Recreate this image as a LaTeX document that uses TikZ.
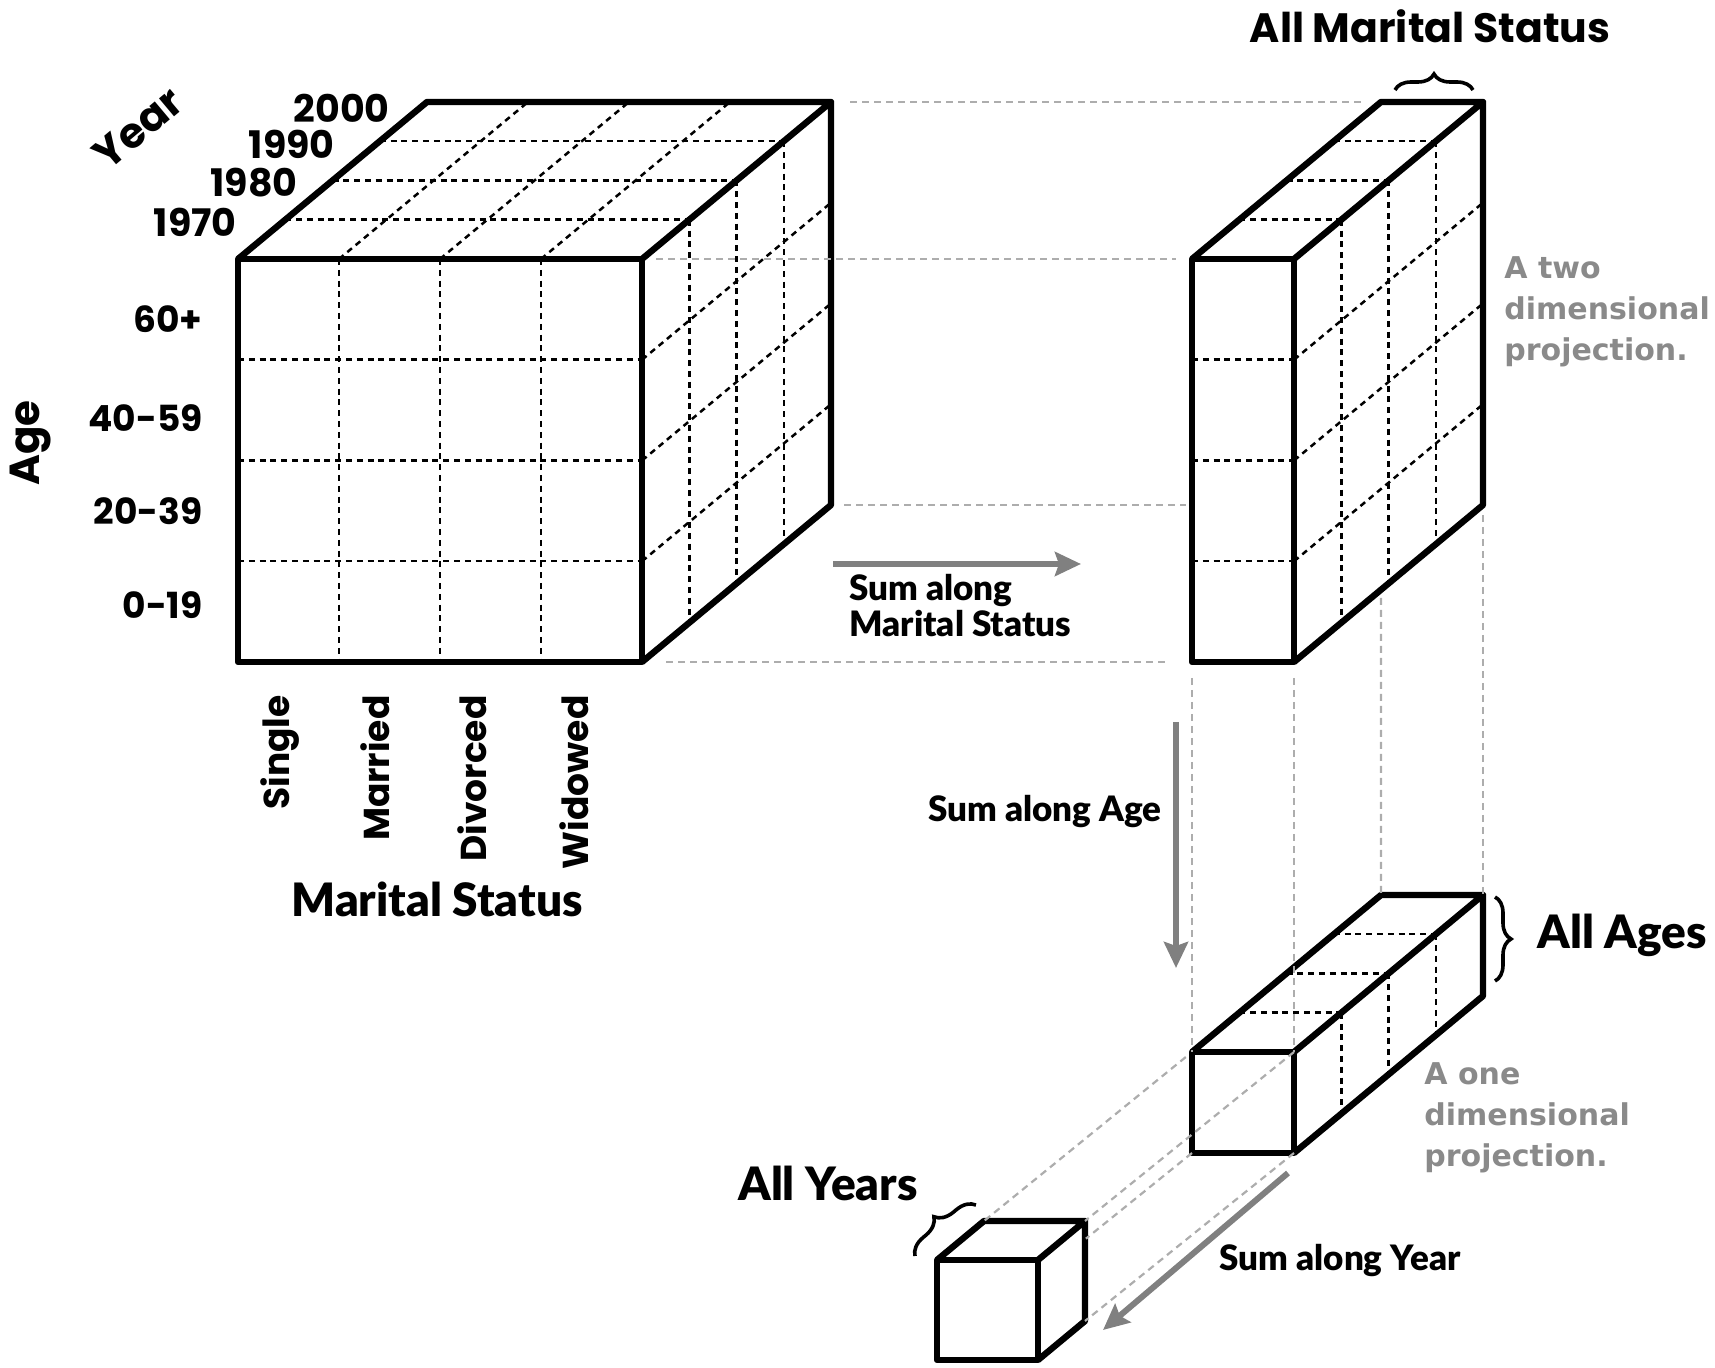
\documentclass[tikz,border=0pt]{standalone}
\usepackage{fontspec}
\setmainfont{Poppins}
\newfontfamily\humfont{Lato}[BoldFont={Lato Black}]
\newfontfamily\notefont{DejaVu Sans}
\usetikzlibrary{arrows.meta,calc,positioning,decorations.pathreplacing}
\definecolor{Ink}{HTML}{000000}
\definecolor{GuideGray}{HTML}{ADADAD}
\definecolor{ArrowGray}{HTML}{808080}
\definecolor{NoteGray}{HTML}{8A8A8A}
\tikzset{
  boxline/.style={line width=3.2pt, draw=Ink, line join=round},
  cellline/.style={line width=1.25pt, draw=Ink, dash pattern=on 3pt off 2.4pt},
  guideline/.style={line width=1.1pt, draw=GuideGray, dash pattern=on 3.5pt off 2.5pt},
  sumarrow/.style={-{Stealth[length=13pt,width=12pt,inset=2pt]}, line width=3pt, draw=ArrowGray},
  axislabel/.style={font=\fontsize{18}{21}\selectfont\bfseries, inner sep=0pt},
  yearlabel/.style={font=\fontsize{19}{22}\selectfont\bfseries, inner sep=0pt},
  sumlabel/.style={font=\humfont\fontsize{17.5}{18}\selectfont\bfseries, align=left, inner sep=0pt},
  titlelabel/.style={font=\humfont\fontsize{23}{26}\selectfont\bfseries, inner sep=0pt},
  notelabel/.style={font=\notefont\fontsize{15}{20.5}\selectfont\bfseries, text=NoteGray, align=left, inner sep=0pt},
  bracemark/.style={decorate, decoration={brace, amplitude=8pt}, line width=1.8pt, draw=Ink}
}

\begin{document}
\begin{tikzpicture}[x=0.5pt,y=-0.5pt]
  \useasboundingbox (0,0) rectangle (1715,1368);

  % full data cube
  \coordinate (c-ftl) at (238,259);
  \coordinate (c-ftr) at (642,259);
  \coordinate (c-fbr) at (642,662);
  \coordinate (c-fbl) at (238,662);
  \coordinate (c-btl) at (427,102);
  \coordinate (c-btr) at (831,102);
  \coordinate (c-bbr) at (831,505);
  \foreach \k in {1,2,3} {
    \draw[cellline] ($(c-ftl)!\k/4!(c-ftr)$) -- ($(c-fbl)!\k/4!(c-fbr)$);
    \draw[cellline] ($(c-ftl)!\k/4!(c-fbl)$) -- ($(c-ftr)!\k/4!(c-fbr)$);
    \draw[cellline] ($(c-ftl)!\k/4!(c-btl)$) -- ($(c-ftr)!\k/4!(c-btr)$);
    \draw[cellline] ($(c-ftl)!\k/4!(c-ftr)$) -- ($(c-btl)!\k/4!(c-btr)$);
    \draw[cellline] ($(c-ftr)!\k/4!(c-btr)$) -- ($(c-fbr)!\k/4!(c-bbr)$);
    \draw[cellline] ($(c-ftr)!\k/4!(c-fbr)$) -- ($(c-btr)!\k/4!(c-bbr)$);
  }
  \draw[boxline] (c-fbl) rectangle (c-ftr);
  \draw[boxline] (c-ftl) -- (c-btl) -- (c-btr) -- (c-ftr) (c-btr) -- (c-bbr) -- (c-fbr);

  % two dimensional slab
  \coordinate (s-ftl) at (1192,259);
  \coordinate (s-ftr) at (1294,259);
  \coordinate (s-fbr) at (1294,662);
  \coordinate (s-fbl) at (1192,662);
  \coordinate (s-btl) at (1381,102);
  \coordinate (s-btr) at (1483,102);
  \coordinate (s-bbr) at (1483,505);
  \foreach \k in {1,2,3} {
    \draw[cellline] ($(s-ftl)!\k/4!(s-fbl)$) -- ($(s-ftr)!\k/4!(s-fbr)$);
    \draw[cellline] ($(s-ftl)!\k/4!(s-btl)$) -- ($(s-ftr)!\k/4!(s-btr)$);
    \draw[cellline] ($(s-ftr)!\k/4!(s-btr)$) -- ($(s-fbr)!\k/4!(s-bbr)$);
    \draw[cellline] ($(s-ftr)!\k/4!(s-fbr)$) -- ($(s-btr)!\k/4!(s-bbr)$);
  }
  \draw[boxline] (s-fbl) rectangle (s-ftr);
  \draw[boxline] (s-ftl) -- (s-btl) -- (s-btr) -- (s-ftr) (s-btr) -- (s-bbr) -- (s-fbr);

  % one dimensional bar
  \coordinate (b-ftl) at (1192,1052);
  \coordinate (b-ftr) at (1294,1052);
  \coordinate (b-fbr) at (1294,1153);
  \coordinate (b-fbl) at (1192,1153);
  \coordinate (b-btl) at (1381,895);
  \coordinate (b-btr) at (1483,895);
  \coordinate (b-bbr) at (1483,996);
  \foreach \k in {1,2,3} {
    \draw[cellline] ($(b-ftl)!\k/4!(b-btl)$) -- ($(b-ftr)!\k/4!(b-btr)$);
    \draw[cellline] ($(b-ftr)!\k/4!(b-btr)$) -- ($(b-fbr)!\k/4!(b-bbr)$);
  }
  \draw[boxline] (b-fbl) rectangle (b-ftr);
  \draw[boxline] (b-ftl) -- (b-btl) -- (b-btr) -- (b-ftr) (b-btr) -- (b-bbr) -- (b-fbr);

  % single cell
  \coordinate (u-ftl) at (937,1260);
  \coordinate (u-ftr) at (1038,1260);
  \coordinate (u-fbr) at (1038,1360);
  \coordinate (u-fbl) at (937,1360);
  \coordinate (u-btl) at (984,1221);
  \coordinate (u-btr) at (1085,1221);
  \coordinate (u-bbr) at (1085,1321);
  \coordinate (u-bbl) at (984,1321);
  \draw[boxline] (u-fbl) rectangle (u-ftr);
  \draw[boxline] (u-ftl) -- (u-btl) -- (u-btr) -- (u-ftr) (u-btr) -- (u-bbr) -- (u-fbr);

  % projection guides
  \draw[guideline, shorten <=9.5pt, shorten >=9.5pt] (c-btr) -- (s-btl);
  \draw[guideline, shorten <=7pt, shorten >=8pt] (c-ftr) -- (s-ftl);
  \draw[guideline, shorten <=6.5pt, shorten >=3pt] (c-bbr) -- (s-ftl |- c-bbr);
  \draw[guideline, shorten <=12pt, shorten >=12.5pt] (c-fbr) -- (s-fbl);
  \draw[guideline, shorten <=8pt] (s-fbl) -- (b-ftl);
  \draw[guideline, shorten <=8pt] (s-fbr) -- (b-ftr);
  \draw[guideline, shorten <=4pt] ($(s-fbr)!0.46!(s-bbr)$) -- (b-btl);
  \draw[guideline, shorten <=5pt] (s-bbr) -- (b-btr);
  \draw[guideline, shorten <=4pt] (b-ftl) -- (u-btl);
  \draw[guideline] (b-ftr) -- (u-btr);
  \draw[guideline] (b-fbr) -- (u-bbr);
  \draw[guideline] (b-fbl) -- ($(b-fbl)!0.51!(u-bbl)$);

  % summing arrows
  \coordinate (ms-from) at (833,564);
  \coordinate (ms-to) at (1081,564);
  \coordinate (age-from) at (1176,722);
  \coordinate (age-to) at (1176,968);
  \coordinate (yr-from) at (1288,1173);
  \coordinate (yr-to) at (1103,1330);
  \draw[sumarrow] (ms-from) -- (ms-to);
  \draw[sumarrow] (age-from) -- (age-to);
  \draw[sumarrow] (yr-from) -- (yr-to);
  \node[sumlabel, anchor=west] (sum-ms) at (849,606) {Sum along\\Marital Status};
  \node[sumlabel] (sum-age) at (1045,812) {Sum along Age};
  \node[sumlabel] (sum-yr) at (1340,1261) {Sum along Year};

  % axis labels
  \node[axislabel, font=\fontsize{21}{24}\selectfont\bfseries, rotate=40] (lab-year) at (138,128) {Year};
  \node[yearlabel, anchor=east] (y2000) at (390,108) {2000};
  \node[yearlabel, anchor=east] (y1990) at (335,144) {1990};
  \node[yearlabel, anchor=east] (y1980) at (298,183) {1980};
  \node[yearlabel, anchor=east] (y1970) at (237,222) {1970};
  \node[axislabel, font=\fontsize{21}{24}\selectfont\bfseries, rotate=90] (lab-age) at (31,443) {Age};
  \node[axislabel, anchor=east] (a60) at (203,319) {60+};
  \node[axislabel, anchor=east] (a40) at (203,418) {40-59};
  \node[axislabel, anchor=east] (a20) at (203,511) {20-39};
  \node[axislabel, anchor=east] (a0) at (203,605) {0-19};
  \node[axislabel, rotate=90, anchor=east] (m-single) at (280,695) {Single};
  \node[axislabel, rotate=90, anchor=east] (m-married) at (375,695) {Married};
  \node[axislabel, rotate=90, anchor=east] (m-divorced) at (472,695) {Divorced};
  \node[axislabel, rotate=90, anchor=east] (m-widowed) at (574,695) {Widowed};
  \node[titlelabel] (lab-ms) at (437,899) {Marital Status};

  % what each projection keeps
  \node[axislabel, font=\fontsize{20.5}{24}\selectfont\bfseries] (all-ms) at (1430,26) {All Marital Status};
  \draw[bracemark] ($(s-btl)+(14,-12)$) -- ($(s-btr)+(-10,-12)$);
  \node[notelabel, anchor=west] (two-d) at (1504,312) {A two\\dimensional\\projection.};
  \draw[bracemark] ($(b-btr)+(12,2)$) -- ($(b-bbr)+(12,-15)$);
  \node[titlelabel, anchor=west] (all-ages) at (1537,935) {All Ages};
  \node[notelabel, anchor=west] (one-d) at (1424,1118) {A one\\dimensional\\projection.};
  \draw[bracemark, decoration={amplitude=9pt}] ($(u-ftl)+(-22,-4)$) -- ($(u-btl)+(-8,-16)$);
  \node[titlelabel] (all-years) at (828,1183) {All Years};
\end{tikzpicture}
\end{document}
